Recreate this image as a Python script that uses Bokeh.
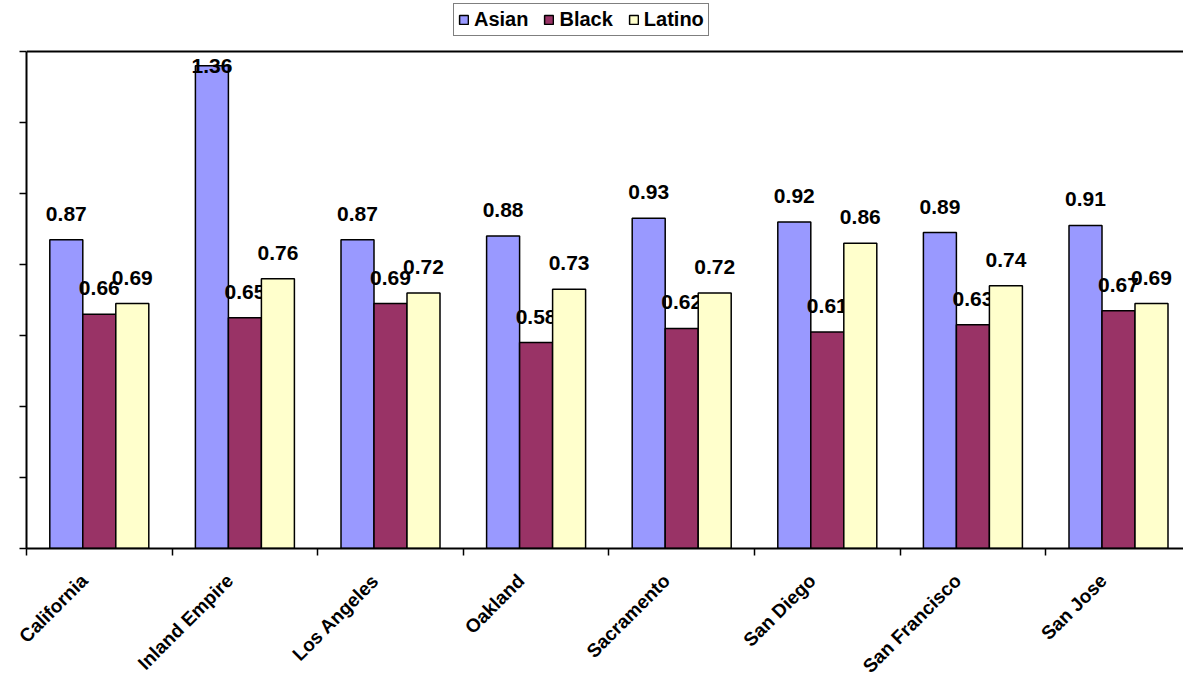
import math
from bokeh.plotting import figure
from bokeh.models import (ColumnDataSource, FixedTicker, Range1d, Span, Legend,
                          LegendItem, CustomJSTickFormatter)
from bokeh.core.properties import value
from bokeh.embed import file_html
from bokeh.resources import INLINE

categories = ["California", "Inland Empire", "Los Angeles", "Oakland",
              "Sacramento", "San Diego", "San Francisco", "San Jose"]
asian = [0.87, 1.36, 0.87, 0.88, 0.93, 0.92, 0.89, 0.91]
black = [0.66, 0.65, 0.69, 0.58, 0.62, 0.61, 0.63, 0.67]
latino = [0.69, 0.76, 0.72, 0.73, 0.72, 0.86, 0.74, 0.69]
series_names = ["Asian", "Black", "Latino"]
series_colors = ["#9999FF", "#993366", "#FFFFCC"]
y_ticks = [0.0, 0.2, 0.4, 0.6, 0.8, 1.0, 1.2, 1.4]

FONT = value("Liberation Sans")
W, H = 1183, 687
LEFT, BOTTOM = 26, 139
PLOT_TOP = 51            # pixel row of the value-axis top (1.4)
frame_w = W - LEFT
frame_h = H - BOTTOM     # frame reaches the top of the canvas (legend lives there)
cat_px = 145.6
ymax = y_ticks[-1]
px_per_unit = (frame_h - PLOT_TOP) / ymax
y_end = frame_h / px_per_unit

p = figure(width=W, height=H, output_backend="svg", toolbar_location=None,
           x_range=Range1d(0, frame_w / cat_px), y_range=Range1d(0, y_end),
           min_border_left=LEFT, min_border_right=0, min_border_top=0,
           min_border_bottom=BOTTOM)
p.grid.visible = False
p.outline_line_color = None
p.background_fill_color = "white"
p.border_fill_color = "white"

bar_w = 33.0 / cat_px
offsets = [-bar_w, 0.0, bar_w]
label_off = 26.0 / px_per_unit
label_cap = ymax - 14.0 / px_per_unit

items = []
for name, vals, color, off in zip(series_names, [asian, black, latino], series_colors, offsets):
    xs = [i + 0.5 + off for i in range(len(categories))]
    src = ColumnDataSource(dict(x=xs, top=vals,
                                ly=[min(v + label_off, label_cap) for v in vals],
                                txt=["%.2f" % v for v in vals]))
    r = p.vbar(x="x", top="top", bottom=0, width=bar_w, source=src,
               fill_color=color, line_color="black", line_width=1.5)
    p.text(x="x", y="ly", text="txt", source=src, text_align="center",
           text_baseline="middle", text_font=FONT, text_font_style="bold",
           text_font_size="21px", text_color="black")
    items.append(LegendItem(label=name, renderers=[r]))

p.add_layout(Span(location=ymax, dimension="width", line_color="black", line_width=2))

# x axis
label_shift = 15.0 / cat_px
xa = p.xaxis[0]
xa.ticker = FixedTicker(ticks=[i + 0.5 - label_shift for i in range(len(categories))],
                        minor_ticks=list(range(len(categories) + 1)))
xa.formatter = CustomJSTickFormatter(args=dict(names=categories),
                                     code="return names[Math.floor(tick)] || '';")
xa.major_tick_line_color = None
xa.major_tick_out = 0
xa.major_tick_in = 0
xa.minor_tick_line_color = "black"
xa.minor_tick_line_width = 1.5
xa.minor_tick_out = 7
xa.minor_tick_in = 0
xa.axis_line_color = "black"
xa.axis_line_width = 2
xa.major_label_orientation = math.pi / 4
xa.major_label_text_font = "Liberation Sans"
xa.major_label_text_font_style = "bold"
xa.major_label_text_font_size = "19px"
xa.major_label_text_color = "black"
xa.major_label_standoff = 22

# y axis
ya = p.yaxis[0]
ya.ticker = FixedTicker(ticks=y_ticks, minor_ticks=[])
ya.formatter = CustomJSTickFormatter(code="return '';")
ya.bounds = (0, ymax)
ya.major_tick_out = 7
ya.major_tick_in = 0
ya.major_tick_line_color = "black"
ya.major_tick_line_width = 1.5
ya.minor_tick_line_color = None
ya.axis_line_color = "black"
ya.axis_line_width = 2
ya.major_label_standoff = 0

legend = Legend(items=items, orientation="horizontal", location=(427, frame_h - 36),
                label_text_font="Liberation Sans", label_text_font_style="bold",
                label_text_font_size="20px", label_text_color="black",
                glyph_width=11, glyph_height=11, label_standoff=5, spacing=15,
                padding=4, margin=0, border_line_color="black", border_line_width=1,
                background_fill_color="white", background_fill_alpha=1.0)
p.add_layout(legend, "center")

open("out.html", "w").write(file_html(p, INLINE))
